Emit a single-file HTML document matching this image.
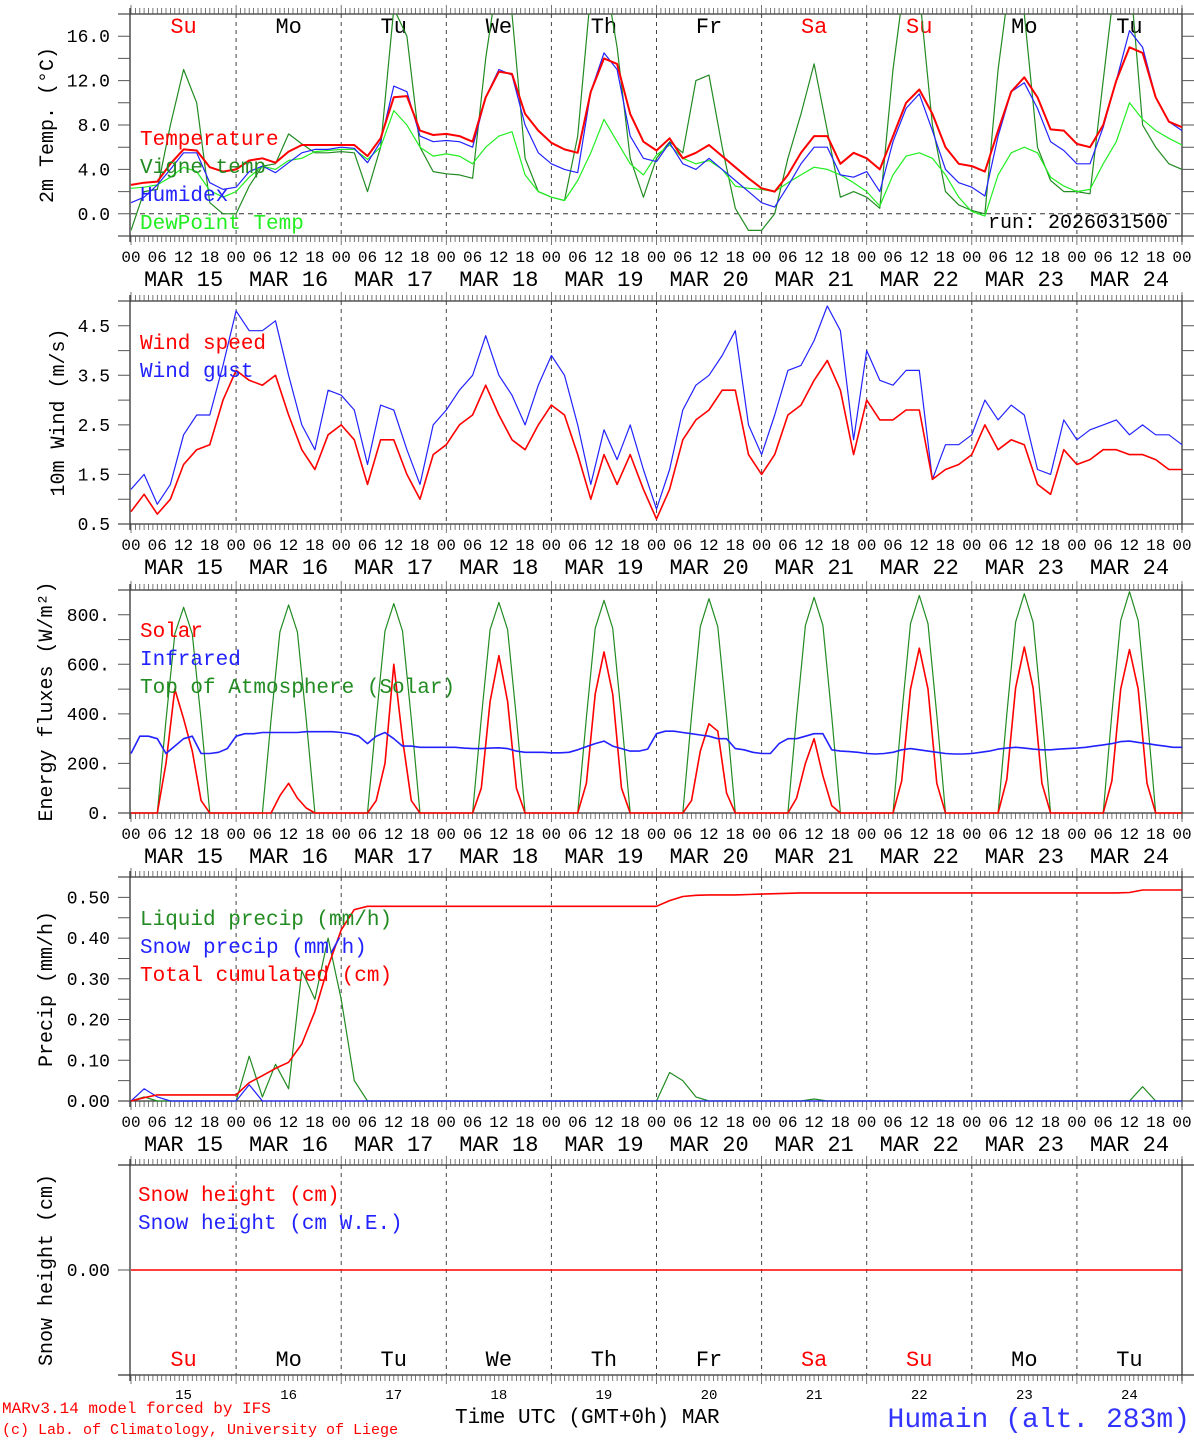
<!DOCTYPE html>
<html><head><meta charset="utf-8"><style>
html,body{margin:0;padding:0;background:#fff;}
svg{display:block;font-family:"Liberation Mono",monospace;}
</style></head><body>
<svg id="chart" width="1194" height="1440" viewBox="0 0 1194 1440" xmlns="http://www.w3.org/2000/svg">
<defs>
<clipPath id="clipT"><rect x="131" y="14" width="1051" height="222"/></clipPath>
</defs>
<g id="g"></g>
<text x="2" y="1413" font-size="16" fill="#f00">MARv3.14 model forced by IFS</text>
<text x="2" y="1434" font-size="15" fill="#f00">(c) Lab. of Climatology, University of Liege</text>
<text x="455" y="1423" font-size="21" fill="#000">Time UTC (GMT+0h) MAR</text>
<text x="1190" y="1427" font-size="28" fill="#3333ff" text-anchor="end">Humain (alt. 283m)</text>
<text x="1168" y="228" font-size="20" fill="#000" text-anchor="end">run: 2026031500</text>
</svg>
<script>
// ---- data (3-hourly from MAR 15 00 UTC) ----
const dayNames = ["Su","Mo","Tu","We","Th","Fr","Sa","Su","Mo","Tu"];
const dayNums = ["15","16","17","18","19","20","21","22","23","24"];
const hourLabels = ["00","06","12","18"];
const tempTicks = ["16.0","12.0","8.0","4.0","0.0"];
const tempTickVals = [16,12,8,4,0];
const windTicks = ["4.5","3.5","2.5","1.5","0.5"];
const windTickVals = [4.5,3.5,2.5,1.5,0.5];
const enTicks = ["800.","600.","400.","200.","0."];
const enTickVals = [800,600,400,200,0];
const prTicks = ["0.50","0.40","0.30","0.20","0.10","0.00"];
const prTickVals = [0.5,0.4,0.3,0.2,0.1,0];

const temperature = [2.6,2.8,2.9,4.5,5.8,5.7,4.2,3.8, 4.0,4.8,5.0,4.6,5.6,6.2,6.2,6.2, 6.2,6.2,5.2,6.8,10.5,10.6,7.5,7.1, 7.2,7.0,6.5,10.5,12.8,12.6,9.0,7.5, 6.4,5.8,5.5,11.0,14.0,13.5,9.0,6.5, 5.7,6.8,5.0,5.5,6.2,5.2,4.2,3.2, 2.3,2.0,3.5,5.5,7.0,7.0,4.5,5.5, 5.0,4.0,7.0,10.0,11.2,9.0,6.0,4.5, 4.3,3.8,7.5,11.0,12.3,10.5,7.6,7.5, 6.3,6.0,8.0,12.0,15.0,14.5,10.5,8.3, 7.8];
const humidex = [1.0,1.5,2.6,4.0,5.5,5.5,2.8,2.2, 2.4,3.8,4.3,3.7,4.6,5.5,5.8,5.8, 6.0,5.9,4.6,6.5,11.5,11.0,7.0,6.5, 6.6,6.5,6.0,10.5,13.0,12.5,8.0,5.5, 4.5,4.0,3.7,11.0,14.5,13.0,7.0,5.0, 4.7,6.4,4.5,4.0,5.0,4.0,3.0,2.0, 1.0,0.6,2.5,4.5,6.0,6.0,3.5,3.3, 3.8,2.0,6.5,9.5,10.8,7.5,4.0,2.8, 2.4,1.6,7.0,11.0,11.8,9.5,6.5,5.7, 4.5,4.5,7.8,12.0,16.5,15.0,10.5,8.3, 7.5];
const dewpoint = [2.3,2.4,2.6,3.3,4.2,3.8,2.1,1.5, 2.0,3.3,4.3,4.0,4.8,5.0,5.6,5.7, 5.8,5.8,4.9,6.0,9.3,8.0,6.0,5.2, 5.4,5.2,4.5,6.0,7.0,7.4,3.5,2.0, 1.5,1.2,3.0,5.5,8.5,6.5,4.5,3.5, 5.3,6.2,5.0,4.5,4.8,4.0,2.5,2.3, 2.2,2.0,2.8,3.5,4.2,4.0,3.5,2.8, 2.0,0.7,3.5,5.2,5.5,5.0,3.5,1.5, 0.2,-0.2,3.5,5.5,6.0,5.5,3.3,2.5, 2.0,2.2,4.5,6.5,10.0,8.5,7.5,6.8, 6.2];
const vigne = [-1.5,2.0,2.2,8.0,13.0,10.0,1.0,0.0, 0.0,2.5,4.3,4.5,7.2,6.3,5.5,5.5, 5.6,5.5,2.0,6.0,18.5,16.0,6.0,3.8, 3.6,3.5,3.2,14.0,22.0,18.0,5.0,2.0, 1.5,1.2,7.0,20.0,22.0,15.0,5.0,1.5, 5.0,6.5,5.5,12.0,12.5,6.0,0.5,-1.5, -1.5,0.0,5.0,9.0,13.5,7.5,1.5,2.0, 1.5,0.5,13.0,22.0,20.0,8.0,2.0,0.8, 0.3,0.0,13.0,22.0,18.0,6.0,3.0,2.0, 2.0,1.8,12.0,22.0,22.0,8.0,6.0,4.5, 4.0];

const windSpeed = [0.75,1.1,0.7,1.0,1.7,2.0,2.1,3.0, 3.6,3.4,3.3,3.5,2.7,2.0,1.6,2.3, 2.5,2.2,1.3,2.2,2.2,1.5,1.0,1.9, 2.1,2.5,2.7,3.3,2.7,2.2,2.0,2.5, 2.9,2.7,1.9,1.0,1.9,1.3,1.9,1.2, 0.6,1.2,2.2,2.6,2.8,3.2,3.2,1.9, 1.5,1.9,2.7,2.9,3.4,3.8,3.2,1.9, 3.0,2.6,2.6,2.8,2.8,1.4,1.6,1.7, 1.9,2.5,2.0,2.2,2.1,1.3,1.1,2.0, 1.7,1.8,2.0,2.0,1.9,1.9,1.8,1.6, 1.6];
const windGust = [1.2,1.5,0.9,1.3,2.3,2.7,2.7,3.7, 4.8,4.4,4.4,4.6,3.5,2.5,2.0,3.2, 3.1,2.8,1.7,2.9,2.8,2.0,1.3,2.5, 2.8,3.2,3.5,4.3,3.5,3.1,2.5,3.3, 3.9,3.5,2.5,1.3,2.4,1.8,2.5,1.6, 0.8,1.6,2.8,3.3,3.5,3.9,4.4,2.5, 1.9,2.7,3.6,3.7,4.2,4.9,4.4,2.2, 4.0,3.4,3.3,3.6,3.6,1.4,2.1,2.1, 2.3,3.0,2.6,2.9,2.7,1.6,1.5,2.6, 2.2,2.4,2.5,2.6,2.3,2.5,2.3,2.3, 2.1];

// energy: 2-hourly
const solar = [0,0,0,0,200,500,380,250,50,0,0,0, 0,0,0,0,0,70,120,60,20,0,0,0, 0,0,0,0,50,200,600,300,50,0,0,0, 0,0,0,0,100,450,635,450,100,0,0,0, 0,0,0,0,120,480,650,480,100,0,0,0, 0,0,0,0,50,250,360,330,80,0,0,0, 0,0,0,0,60,200,300,150,30,0,0,0, 0,0,0,0,130,500,665,500,120,0,0,0, 0,0,0,0,135,505,670,505,120,0,0,0, 0,0,0,0,130,500,660,500,120,0,0,0, 0];
const infrared = [240,310,310,300,240,270,300,310,240,240,245,260, 310,320,320,325,325,325,325,325,328,328,328,328, 325,320,310,280,310,325,300,270,270,265,265,265, 265,265,262,260,260,262,263,260,250,245,245,245, 243,243,245,255,268,280,290,270,260,250,250,258, 320,330,330,325,320,315,310,300,300,260,255,245, 240,240,280,300,300,310,320,320,255,250,248,245, 240,238,240,245,255,260,255,250,245,240,238,238, 240,245,250,258,262,265,262,258,255,255,258,260, 262,265,270,275,280,288,290,285,280,275,270,265, 265];
const toa = [0,0,0,0,375,722,830,722,375,0,0,0, 0,0,0,0,378,731,840,731,378,0,0,0, 0,0,0,0,380,735,845,735,380,0,0,0, 0,0,0,0,383,740,850,740,383,0,0,0, 0,0,0,0,386,746,858,746,386,0,0,0, 0,0,0,0,389,752,865,752,389,0,0,0, 0,0,0,0,392,757,870,757,392,0,0,0, 0,0,0,0,395,764,878,764,395,0,0,0, 0,0,0,0,398,770,885,770,398,0,0,0, 0,0,0,0,402,777,893,777,402,0,0,0, 0];

// precip: 3-hourly
const liquid = [0,0.01,0,0,0,0,0,0, 0,0.11,0.01,0.09,0.03,0.32,0.25,0.4, 0.25,0.05,0,0,0,0,0,0, 0,0,0,0,0,0,0,0, 0,0,0,0,0,0,0,0, 0,0.07,0.05,0.01,0,0,0,0, 0,0,0,0,0.005,0,0,0, 0,0,0,0,0,0,0,0, 0,0,0,0,0,0,0,0, 0,0,0,0,0,0.035,0,0, 0];
const snowPrecip = [0,0.03,0.01,0,0,0,0,0, 0,0.04,0,0,0,0,0,0, 0,0,0,0,0,0,0,0, 0,0,0,0,0,0,0,0, 0,0,0,0,0,0,0,0, 0,0,0,0,0,0,0,0, 0,0,0,0,0,0,0,0, 0,0,0,0,0,0,0,0, 0,0,0,0,0,0,0,0, 0,0,0,0,0,0,0,0, 0];
const cumul = [0,0.008,0.015,0.015,0.015,0.015,0.015,0.015, 0.015,0.045,0.062,0.08,0.095,0.14,0.22,0.33, 0.42,0.47,0.478,0.478,0.478,0.478,0.478,0.478, 0.478,0.478,0.478,0.478,0.478,0.478,0.478,0.478, 0.478,0.478,0.478,0.478,0.478,0.478,0.478,0.478, 0.478,0.492,0.502,0.505,0.506,0.506,0.506,0.507, 0.508,0.509,0.51,0.511,0.511,0.511,0.511,0.511, 0.511,0.511,0.511,0.511,0.511,0.511,0.511,0.511, 0.511,0.511,0.511,0.511,0.511,0.511,0.511,0.511, 0.511,0.511,0.511,0.511,0.512,0.518,0.518,0.518, 0.518];
const snowHeight = [0,0];

// ---- axes ----
const X0 = 131, X1 = 1182, HRS = 240;
function xs(h){ return X0 + h*(X1-X0)/HRS; }
const P = {
  temp:{top:14,bottom:236,min:-2,max:18},
  wind:{top:301,bottom:524,min:0.5,max:5.0},
  en:{top:590,bottom:813,min:0,max:900},
  pr:{top:877,bottom:1101,min:0,max:0.55},
  sn:{top:1165,bottom:1375,min:-1,max:1}
};
function ys(p,v){ return p.bottom-(v-p.min)/(p.max-p.min)*(p.bottom-p.top); }

const NS = "http://www.w3.org/2000/svg";
const G = document.getElementById("g");
function mk(tag, attrs, parent){
  const e = document.createElementNS(NS, tag);
  for (const k in attrs) e.setAttribute(k, attrs[k]);
  (parent||G).appendChild(e);
  return e;
}
function txt(s, x, y, size, color, anchor){
  const t = mk("text",{x:x,y:y,"font-size":size,fill:color,"text-anchor":anchor||"start"});
  t.textContent = s;
  return t;
}

function frame(p, name){
  const g = mk("g",{});
  
  
  for (let d=1; d<10; d++){
    const l = mk("line",{x1:xs(d*24),x2:xs(d*24),y1:p.top,y2:p.bottom,stroke:"#444","stroke-width":1,"stroke-dasharray":"4,4"},g);
    
    
  }
  mk("line",{x1:118,x2:1194,y1:p.top,y2:p.top,stroke:"#333","stroke-width":1.3},g);
  mk("line",{x1:118,x2:1194,y1:p.bottom,y2:p.bottom,stroke:"#333","stroke-width":1.3},g);
  mk("line",{x1:130,x2:130,y1:p.top-6,y2:p.bottom+6,stroke:"#333","stroke-width":1.3},g);
  mk("line",{x1:1182,x2:1182,y1:p.top-6,y2:p.bottom+6,stroke:"#333","stroke-width":1.3},g);
  let dpath="";
  for (let h=0; h<=HRS; h++){
    const x=xs(h).toFixed(1);
    const L = (h%24===0)?12:6;
    dpath += `M${x} ${p.top}v${-L/2-3}M${x} ${p.bottom}v${L/2+3}`;
  }
  mk("path",{d:dpath,stroke:"#555","stroke-width":0.8,fill:"none"},g);
}

function yaxis(p, labels, vals, minorStep, title, titleX){
  let d="";
  for (let v=p.min; v<=p.max+1e-9; v+=minorStep){
    const y=ys(p,v).toFixed(1);
    d += `M118 ${y}H130M1182 ${y}H1194`;
  }
  mk("path",{d:d,stroke:"#555","stroke-width":1,fill:"none"});
  labels.forEach((s,i)=>{
    const t = txt(s, 110, ys(p,vals[i])+6, 18, "#000", "end");
    
    
  });
  const cy=(p.top+p.bottom)/2;
  const t = mk("text",{x:0,y:0,"font-size":20,fill:"#000","text-anchor":"middle",transform:`translate(${titleX},${cy}) rotate(-90)`});
  t.textContent = title;
  
  
}

function xlabels(p){
  const y1=p.bottom+26, y2=p.bottom+50;
  for (let h=0; h<=HRS; h+=6){
    const t = txt(hourLabels[(h/6)%4], xs(h), y1, 16, "#000", "middle");
    
    
  }
  dayNums.forEach((n,d)=>{
    const t = txt("MAR " + n, xs(d*24+12), y2, 22, "#000", "middle");
    
    
  });
}

function series(p, arr, step, color, w, name, clip){
  const pts = arr.map((v,i)=>xs(i*step).toFixed(1)+","+ys(p,v).toFixed(1)).join(" ");
  const a = {points:pts,fill:"none",stroke:color,"stroke-width":w,"stroke-linejoin":"round"};
  if (clip) a["clip-path"]="url(#"+clip+")";
  const l = mk("polyline",a);
  
  
}
function legend(items, x, y0, dy){
  items.forEach((it,i)=>{
    const t = txt(it[0], x, y0+i*dy, 21, it[1]);
    
    
  });
}
function dayRow(y){
  dayNames.forEach((n,d)=>{
    const c = (n==="Su"||n==="Sa")?"#f00":"#000";
    const t = txt(n, xs(d*24+12), y, 22, c, "middle");
    
    
  });
}

// Temperature panel
frame(P.temp,"temp");
mk("line",{x1:131,x2:1182,y1:ys(P.temp,0),y2:ys(P.temp,0),stroke:"#333","stroke-dasharray":"5,4","stroke-width":1});
yaxis(P.temp,tempTicks,tempTickVals,2,"2m Temp. (\u00B0C)",53);
dayRow(33);
series(P.temp,vigne,3,"#228b22",1.2,"vigne-temp-line","clipT");
series(P.temp,dewpoint,3,"#22ee22",1.2,"dewpoint-line");
series(P.temp,humidex,3,"#2222ff",1.2,"humidex-line");
series(P.temp,temperature,3,"#ff0000",2,"temperature-line");
legend([["Temperature","#f00"],["Vigne temp","#228b22"],["Humidex","#22f"],["DewPoint Temp","#2e2"]],140,145,28);
xlabels(P.temp);

// Wind
frame(P.wind,"wind");
yaxis(P.wind,windTicks,windTickVals,0.5,"10m Wind (m/s)",64);
series(P.wind,windGust,3,"#2222ff",1.2,"wind-gust-line");
series(P.wind,windSpeed,3,"#ff0000",1.6,"wind-speed-line");
legend([["Wind speed","#f00"],["Wind gust","#22f"]],140,349,28);
xlabels(P.wind);

// Energy
frame(P.en,"energy");
yaxis(P.en,enTicks,enTickVals,100,"Energy fluxes (W/m\u00B2)",52);
series(P.en,toa,2,"#228b22",1.2,"toa-solar-line");
series(P.en,solar,2,"#ff0000",1.6,"solar-line");
series(P.en,infrared,2,"#2222ff",1.6,"infrared-line");
legend([["Solar","#f00"],["Infrared","#22f"],["Top of Atmosphere (Solar)","#228b22"]],140,637,28);
xlabels(P.en);

// Precip
frame(P.pr,"precip");
yaxis(P.pr,prTicks,prTickVals,0.05,"Precip (mm/h)",52);
series(P.pr,liquid,3,"#228b22",1.2,"liquid-precip-line");
series(P.pr,snowPrecip,3,"#2222ff",1.2,"snow-precip-line");
series(P.pr,cumul,3,"#ff0000",1.6,"cumulated-precip-line");
legend([["Liquid precip (mm/h)","#228b22"],["Snow precip (mm/h)","#22f"],["Total cumulated (cm)","#f00"]],140,925,28);
xlabels(P.pr);

// Snow
frame(P.sn,"snow");
{
  const t = txt("0.00",110,ys(P.sn,0)+6,18,"#000","end");
  
  
  mk("path",{d:`M118 ${ys(P.sn,0)}H130`,stroke:"#555"});
  const tt = mk("text",{x:0,y:0,"font-size":20,fill:"#000","text-anchor":"middle",transform:`translate(52,1270) rotate(-90)`});
  tt.textContent="Snow height (cm)";
  
  
}
series(P.sn,snowHeight,HRS,"#ff0000",1.5,"snow-height-line");
legend([["Snow height (cm)","#f00"],["Snow height (cm W.E.)","#22f"]],138,1201,28);
dayRow(1366);
dayNums.forEach((n,d)=>{
  const t = txt(n, xs(d*24+12), 1399, 14, "#000", "middle");
  
  
});
</script>
</body></html>
